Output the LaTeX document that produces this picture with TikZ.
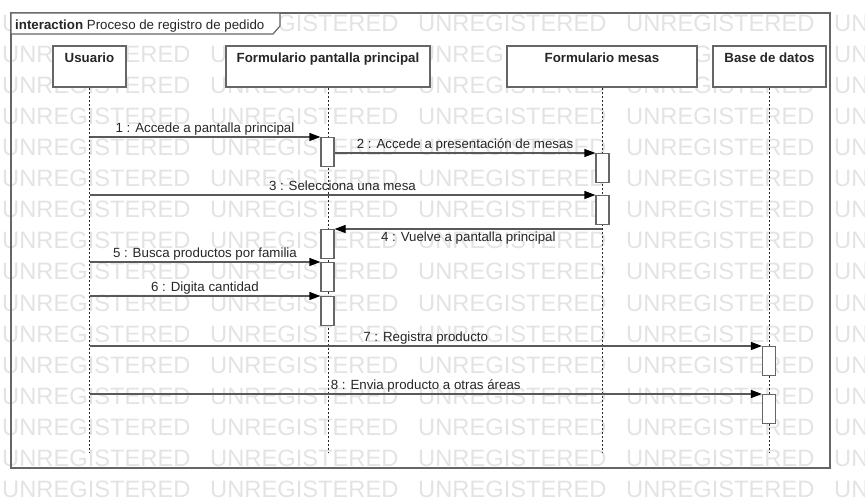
\documentclass[tikz,border=0pt]{standalone}
\usepackage{fontspec}
\setmainfont{Liberation Sans}
\usetikzlibrary{arrows.meta}

\tikzset{
  lbl/.style={font=\fontsize{13.3}{15}\selectfont, text=black!85},
  wm/.style={font=\fontsize{23.7}{26}\selectfont, text=black!11, anchor=west, inner sep=0pt},
  frame/.style={draw=black!60, line width=1.2pt},
  head/.style={lbl, font=\fontsize{13.3}{15}\selectfont\bfseries, draw=black!60, line width=1.3pt,
    fill=white, inner sep=0pt, text height=17pt, text depth=24pt},
  lifeline/.style={draw=black!85, line width=0.9pt, dash pattern=on 2pt off 2pt},
  act/.style={draw=black!60, line width=1.2pt, fill=white, anchor=north, inner sep=0pt,
    minimum width=13pt, minimum height=29pt},
  msg/.style={draw=black!65, line width=1.2pt, -{Triangle[length=11pt,width=8pt,black]}},
  msglbl/.style={lbl, inner sep=2pt, text depth=0.22em}
}

\begin{document}
\begin{tikzpicture}[x=1pt,y=-1pt]
  \useasboundingbox (0,0) rectangle (865,502);

  \foreach \r in {0,...,15}
    \foreach \c in {0,...,4}
      \node[wm] (wm-\r-\c) at (2+208*\c, 23+31.1*\r) {UNREGISTERED};

  \draw[frame] (11,13) rectangle (830,468);
  \draw[frame, fill=white] (11,13) -- (280,13) -- (280,26) -- (273,34) -- (11,34) -- cycle;
  \node[lbl, anchor=base west, inner sep=4pt] (title) at (11,30)
    {\textbf{interaction} Proceso de registro de pedido};

  \node[head, minimum width=73pt]  (usuario) at (89.5,66.5) {Usuario};
  \node[head, minimum width=204pt] (fpp)     at (328,66.5)  {Formulario pantalla principal};
  \node[head, minimum width=190pt] (fm)      at (602,66.5)  {Formulario mesas};
  \node[head, minimum width=113pt] (bd)      at (769.5,66.5) {Base de datos};

  \coordinate (usuario-end) at (89.5,452);
  \coordinate (fpp-end)     at (328,452);
  \coordinate (fm-end)      at (602,452);
  \coordinate (bd-end)      at (769.5,452);
  \draw[lifeline] (usuario) -- (usuario-end);
  \draw[lifeline] (fpp) -- (fpp-end);
  \draw[lifeline] (fm) -- (fm-end);
  \draw[lifeline] (bd) -- (bd-end);

  \node[act] (fpp-1) at (327.5,137) {};
  \node[act] (fm-2)  at (602.5,153) {};
  \node[act] (fm-3)  at (602.5,195) {};
  \node[act] (fpp-4) at (327.5,229) {};
  \node[act] (fpp-5) at (327.5,262) {};
  \node[act] (fpp-6) at (327.5,296) {};
  \node[act] (bd-7)  at (769,346) {};
  \node[act] (bd-8)  at (769,394) {};

  \draw[msg] (usuario |- fpp-1.north) -- (fpp-1.north west)
    node[msglbl, midway, above] {1 : Accede a pantalla principal};
  \draw[msg] (fpp-1.east |- fm-2.north) -- (fm-2.north west)
    node[msglbl, midway, above] {2 : Accede a presentación de mesas};
  \draw[msg] (usuario |- fm-3.north) -- (fm-3.north west)
    node[msglbl, midway, above] {3 : Selecciona una mesa};
  \draw[msg] (fm |- fpp-4.north) -- (fpp-4.north east)
    node[msglbl, midway, below] {4 : Vuelve a pantalla principal};
  \draw[msg] (usuario |- fpp-5.north) -- (fpp-5.north west)
    node[msglbl, midway, above] {5 : Busca productos por familia};
  \draw[msg] (usuario |- fpp-6.north) -- (fpp-6.north west)
    node[msglbl, midway, above] {6 : Digita cantidad};
  \draw[msg] (usuario |- bd-7.north) -- (bd-7.north west)
    node[msglbl, midway, above] {7 : Registra producto};
  \draw[msg] (usuario |- bd-8.north) -- (bd-8.north west)
    node[msglbl, midway, above] {8 : Envia producto a otras áreas};
\end{tikzpicture}
\end{document}
